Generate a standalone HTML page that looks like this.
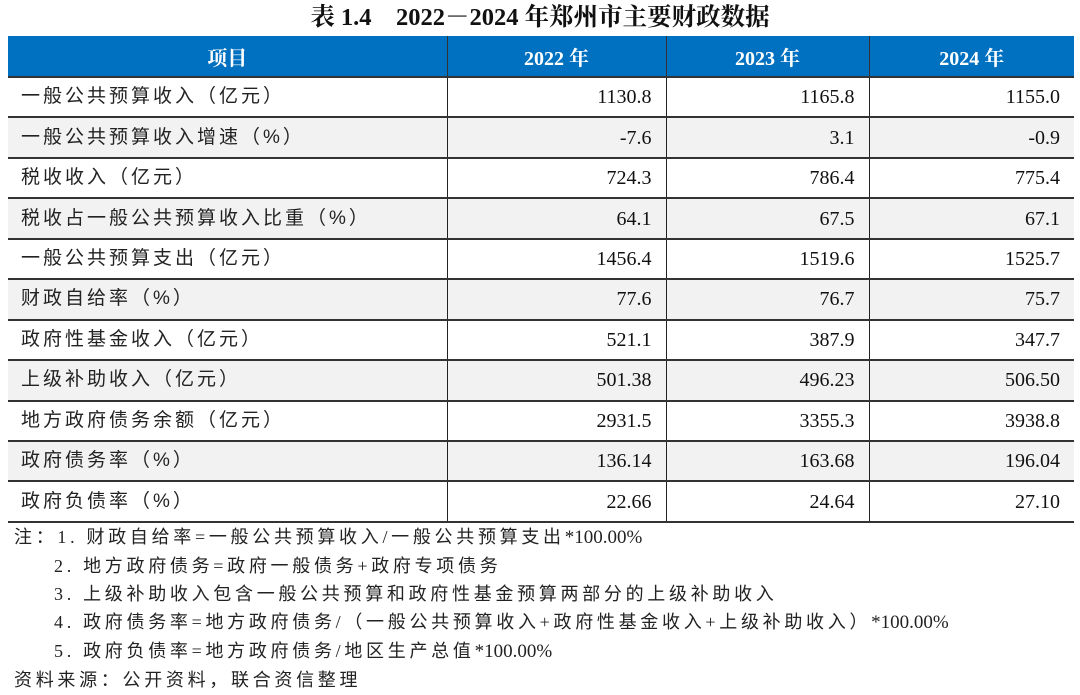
<!DOCTYPE html>
<html><head><meta charset="utf-8"><style>
body{margin:0;width:1080px;height:695px;background:#fff;font-family:"Liberation Serif","Noto Serif CJK SC","Noto Sans CJK SC",serif;color:#111;position:relative;overflow:hidden}
.title{position:absolute;top:3px;left:0;width:1080px;text-align:center;font-weight:bold;font-size:24.5px;line-height:30px}
table{position:absolute;left:8px;top:36px;border-collapse:collapse;width:1066px;font-size:20px}
th{background:#0070c0;color:#fff;font-weight:bold;height:40px;padding:0;border-left:1.5px solid #333;font-size:20px}
th:first-child{border-left:none}
td{height:38.45px;padding:0 14px;border-top:2px solid #333;border-left:1.5px solid #222;text-align:right;font-family:"Liberation Serif",serif;line-height:20px}
td:first-child{border-left:none;text-align:left;padding-left:13px;font-family:"Liberation Sans","Noto Sans CJK SC",sans-serif;font-size:19px;letter-spacing:3px;color:#222}
tr:nth-child(even) td{background:#f2f2f2}
tbody tr:last-child td{border-bottom:2px solid #333}
.notes{position:absolute;left:14px;top:523px;font-size:18px;line-height:28px;color:#222;font-family:"Liberation Serif","Noto Sans CJK SC",sans-serif;letter-spacing:3.7px}
.notes span{letter-spacing:0;font-size:19px}
.notes div.i{padding-left:40px}
</style></head><body>
<div class="title">表 1.4　2022－2024 年郑州市主要财政数据</div>
<table>
<colgroup><col style="width:439px"><col style="width:219px"><col style="width:203px"><col style="width:205px"></colgroup>
<thead><tr><th>项目</th><th>2022 年</th><th>2023 年</th><th>2024 年</th></tr></thead>
<tbody>
<tr><td>一般公共预算收入（亿元）</td><td>1130.8</td><td>1165.8</td><td>1155.0</td></tr>
<tr><td>一般公共预算收入增速（%）</td><td>-7.6</td><td>3.1</td><td>-0.9</td></tr>
<tr><td>税收收入（亿元）</td><td>724.3</td><td>786.4</td><td>775.4</td></tr>
<tr><td>税收占一般公共预算收入比重（%）</td><td>64.1</td><td>67.5</td><td>67.1</td></tr>
<tr><td>一般公共预算支出（亿元）</td><td>1456.4</td><td>1519.6</td><td>1525.7</td></tr>
<tr><td>财政自给率（%）</td><td>77.6</td><td>76.7</td><td>75.7</td></tr>
<tr><td>政府性基金收入（亿元）</td><td>521.1</td><td>387.9</td><td>347.7</td></tr>
<tr><td>上级补助收入（亿元）</td><td>501.38</td><td>496.23</td><td>506.50</td></tr>
<tr><td>地方政府债务余额（亿元）</td><td>2931.5</td><td>3355.3</td><td>3938.8</td></tr>
<tr><td>政府债务率（%）</td><td>136.14</td><td>163.68</td><td>196.04</td></tr>
<tr><td>政府负债率（%）</td><td>22.66</td><td>24.64</td><td>27.10</td></tr>
</tbody></table>
<div class="notes">
<div>注：1. 财政自给率=一般公共预算收入/一般公共预算支出<span>*100.00%</span></div>
<div class="i">2. 地方政府债务=政府一般债务+政府专项债务</div>
<div class="i">3. 上级补助收入包含一般公共预算和政府性基金预算两部分的上级补助收入</div>
<div class="i">4. 政府债务率=地方政府债务/（一般公共预算收入+政府性基金收入+上级补助收入）<span>*100.00%</span></div>
<div class="i">5. 政府负债率=地方政府债务/地区生产总值<span>*100.00%</span></div>
<div>资料来源：公开资料，联合资信整理</div>
</div>
</body></html>
